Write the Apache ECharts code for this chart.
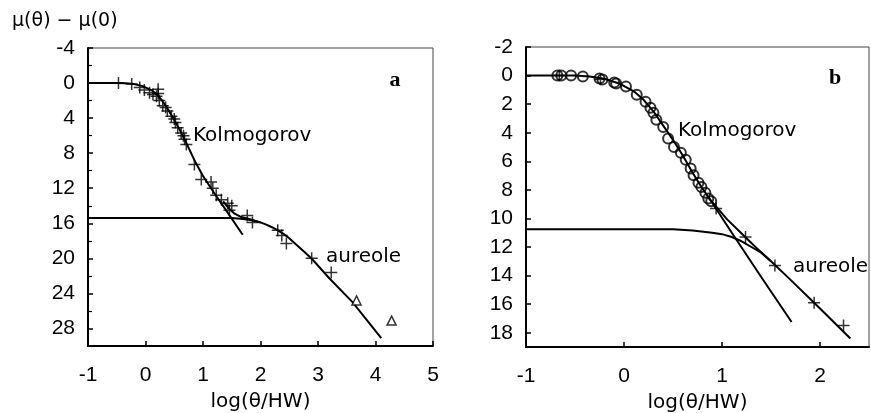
<!DOCTYPE html>
<html><head><meta charset="utf-8">
<script src="https://cdn.jsdelivr.net/npm/echarts@6.0.0/dist/echarts.min.js"></script>
<style>html,body{margin:0;padding:0;background:#fff}#c{width:871px;height:413px}</style>
</head><body><div id="c"></div>
<script>
// ---- Panel a data ----
const aKolmogorovLine = [[-1,0],[-0.5,0],[-0.35,0.02],[-0.2,0.12],[-0.05,0.35],[0.1,0.8],[0.2,1.3],[0.3,2.1],[0.4,3.1],[0.5,4.2],[0.6,5.4],[0.7,6.7],[0.85,8.8],[1.0,10.6],[1.2,12.6],[1.4,14.5],[1.69,17.3]];
const aAureoleLine = [[-1,15.4],[1.5,15.4],[1.7,15.5],[1.85,15.65],[2.0,15.9],[2.1,16.15],[2.2,16.45],[2.3,16.8],[2.4,17.2],[2.5,17.7],[2.6,18.3],[2.75,19.2],[2.9,20.1],[3.2,22.3],[3.6,25.0],[4.1,29.1]];
const aTotalLine = [[1.35,13.5],[1.45,14.3],[1.55,14.9],[1.65,15.25],[1.8,15.5],[2.0,15.9]];
const aCross = [[-0.47,0],[-0.24,0.1],[-0.1,0.5],[-0.02,0.8],[0.07,1.1],[0.13,1.3],[0.19,1.5],[0.22,0.7],[0.22,1.2],[0.24,2.0],[0.3,2.6],[0.35,2.8],[0.38,3.2],[0.45,3.8],[0.5,4.1],[0.52,4.5],[0.56,5.1],[0.62,5.7],[0.66,6.0],[0.68,6.4],[0.71,7.0],[0.85,9.3],[0.97,11.0],[1.14,11.3],[1.17,12.0],[1.23,12.8],[1.32,13.3],[1.43,13.7],[1.46,14.5],[1.5,14.0],[1.77,15.1],[1.86,15.9],[2.3,16.8],[2.37,17.4],[2.45,18.3],[2.89,20.0],[3.23,21.6]];
const aTriangle = [[3.67,24.8],[4.28,27.1]];
// ---- Panel b data ----
const bKolmogorovLine = [[-1,0],[-0.5,0],[-0.35,0.07],[-0.2,0.22],[-0.05,0.55],[0.1,1.1],[0.2,1.7],[0.3,2.5],[0.4,3.5],[0.5,4.5],[0.6,5.6],[0.7,6.8],[0.8,7.9],[0.9,8.9],[1.1,11.0],[1.4,14.1],[1.71,17.25]];
const bAureoleLine = [[-1,10.75],[0.5,10.75],[0.7,10.85],[0.9,11.0],[1.0,11.1],[1.1,11.3],[1.2,11.6],[1.3,12.0],[1.4,12.4],[1.5,13.0]];
const bTotalLine = [[0.85,8.45],[0.95,9.25],[1.05,10.05],[1.2,11.05],[1.35,12.05],[1.5,13.0],[1.7,14.3],[2.0,16.3],[2.31,18.4]];
const bCircle = [[-0.68,0],[-0.64,0],[-0.54,0],[-0.42,0.07],[-0.25,0.21],[-0.22,0.28],[-0.1,0.49],[-0.08,0.56],[0.02,0.77],[0.13,1.34],[0.22,1.83],[0.27,2.25],[0.3,2.6],[0.33,3.1],[0.4,3.6],[0.45,4.4],[0.51,5.0],[0.58,5.4],[0.63,5.9],[0.68,6.5],[0.71,6.97],[0.76,7.5],[0.79,7.8],[0.83,8.2],[0.86,8.6],[0.89,8.8]];
const bCross = [[-0.66,0],[-0.24,0.25],[0.94,9.3],[1.24,11.3],[1.54,13.3],[1.94,15.9],[2.24,17.5]];
// ---- axis ticks ----
const aXTicks = {min:-1, max:5, interval:1};
const aYTicks = {min:-4, max:30, interval:4};
const bXTicks = {min:-1, max:2.5, interval:1};
const bYTicks = {min:-2, max:19, interval:2};

const FONT = 'DejaVu Sans';
const TICKFONT = 'Liberation Sans';
const plusPath = 'path://M5.25,0h1.5v5.25h5.25v1.5h-5.25v5.25h-1.5v-5.25h-5.25v-1.5h5.25z';

function xAxis(idx, t) {
  return {gridIndex: idx, type:'value', min:t.min, max:t.max, interval:t.interval,
    axisLine:{onZero:false, lineStyle:{color:'#000', width:2}},
    axisTick:{inside:true, length:5, lineStyle:{color:'#000', width:1.5}},
    axisLabel:{color:'#000', fontSize:21, fontFamily:TICKFONT, margin:19, showMaxLabel: idx===0},
    splitLine:{show:false},
    name:'log(θ/HW)', nameLocation:'middle', nameGap:46,
    nameTextStyle:{color:'#000', fontSize:20, fontFamily:FONT}};
}
function yAxis(idx, t, minor) {
  return {gridIndex: idx, type:'value', inverse:true, min:t.min, max:t.max, interval:t.interval,
    axisLine:{onZero:false, lineStyle:{color:'#000', width:2}},
    axisTick:{inside:true, length:5, lineStyle:{color:'#000', width:1.5}},
    minorTick:{show:minor, splitNumber:2, length:4, lineStyle:{color:'#000', width:1.2}},
    axisLabel:{color:'#000', fontSize:21, fontFamily:TICKFONT, margin:13, showMaxLabel:false},
    splitLine:{show:false}, minorSplitLine:{show:false}};
}
function line(xi, data) {
  return {type:'line', xAxisIndex:xi, yAxisIndex:xi, data:data, showSymbol:false, smooth:false,
    lineStyle:{color:'#000', width:2}, silent:true, z:2};
}
function scatter(xi, data, symbol, size, fill, bw) {
  return {type:'scatter', xAxisIndex:xi, yAxisIndex:xi, data:data, symbol:symbol, symbolSize:size,
    itemStyle:{color:fill, borderColor:'#000', borderWidth: bw}, z:3, silent:true};
}

const chart = echarts.init(document.getElementById('c'), null, {renderer:'canvas'});
chart.setOption({
  animation:false,
  backgroundColor:'#fff',
  grid:[
    {left:88, top:48, width:345, height:298, show:true, borderColor:'#444', borderWidth:1, containLabel:false, outerBoundsMode:'none'},
    {left:526, top:47, width:343, height:300, show:true, borderColor:'#444', borderWidth:1, containLabel:false, outerBoundsMode:'none'}
  ],
  xAxis:[xAxis(0, aXTicks), xAxis(1, bXTicks)],
  yAxis:[yAxis(0, aYTicks, true), yAxis(1, bYTicks, false)],
  series:[
    line(0, aKolmogorovLine), line(0, aAureoleLine), line(0, aTotalLine),
    scatter(0, aCross, plusPath, 12, '#000', 0),
    scatter(0, aTriangle, 'triangle', 9, '#fff', 1.5),
    line(1, bKolmogorovLine), line(1, bAureoleLine), line(1, bTotalLine),
    scatter(1, bCircle, 'circle', 10, 'rgba(255,255,255,0)', 2),
    scatter(1, bCross, plusPath, 12, '#000', 0)
  ],
  graphic:[
    {type:'text', left:12, top:12, style:{text:'μ(θ) − μ(0)', fontSize:19, fontFamily:FONT, fill:'#000'}},
    {type:'text', x:395, y:80, style:{text:'a', fontSize:22, fontWeight:'bold', fontFamily:'Liberation Serif', fill:'#000', align:'center', verticalAlign:'middle'}},
    {type:'text', x:835, y:78, style:{text:'b', fontSize:22, fontWeight:'bold', fontFamily:'Liberation Serif', fill:'#000', align:'center', verticalAlign:'middle'}},
    {type:'text', x:193, y:136, style:{text:'Kolmogorov', fontSize:20, fontFamily:FONT, fill:'#000', verticalAlign:'middle'}},
    {type:'text', x:678, y:131, style:{text:'Kolmogorov', fontSize:20, fontFamily:FONT, fill:'#000', verticalAlign:'middle'}},
    {type:'text', x:326, y:257, style:{text:'aureole', fontSize:20, fontFamily:FONT, fill:'#000', verticalAlign:'middle'}},
    {type:'text', x:793, y:267, style:{text:'aureole', fontSize:20, fontFamily:FONT, fill:'#000', verticalAlign:'middle'}}
  ]
});
</script></body></html>
